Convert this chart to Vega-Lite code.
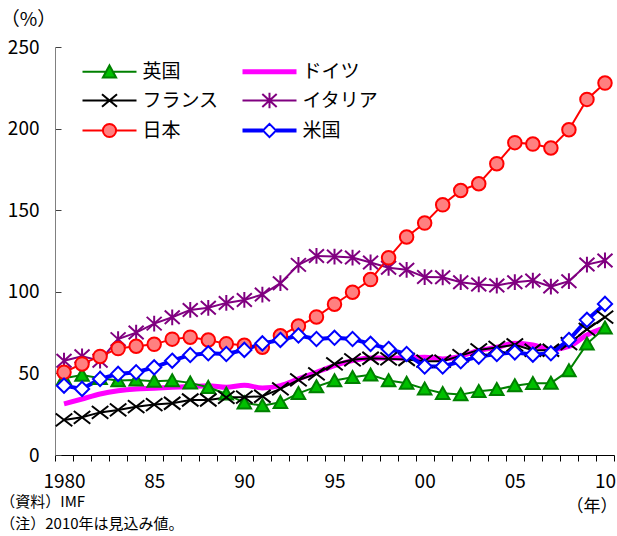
{
  "$schema": "https://vega.github.io/schema/vega-lite/v6.json",
  "width": 559,
  "height": 408,
  "autosize": {"type": "none"},
  "padding": {"left": 55, "top": 47, "right": 3, "bottom": 81},
  "background": "white",
  "config": {
    "font": "Noto Sans CJK JP",
    "view": {"stroke": null},
    "axis": {"grid": false}
  },
  "title": {
    "text": ["（資料）IMF", "（注）2010年は見込み値。"],
    "orient": "bottom",
    "anchor": "start",
    "frame": "bounds",
    "fontSize": 15,
    "fontWeight": "normal",
    "color": "black",
    "lineHeight": 22,
    "offset": -19
  },
  "data": {"values": [
    {"country":"英国","year":1980,"value":47},{"country":"英国","year":1981,"value":49},{"country":"英国","year":1982,"value":47},{"country":"英国","year":1983,"value":45.6},{"country":"英国","year":1984,"value":46},{"country":"英国","year":1985,"value":45.2},{"country":"英国","year":1986,"value":45.6},{"country":"英国","year":1987,"value":44.2},{"country":"英国","year":1988,"value":41.5},{"country":"英国","year":1989,"value":37.4},{"country":"英国","year":1990,"value":32},{"country":"英国","year":1991,"value":30.2},{"country":"英国","year":1992,"value":32.3},{"country":"英国","year":1993,"value":37.8},{"country":"英国","year":1994,"value":41.9},{"country":"英国","year":1995,"value":45.6},{"country":"英国","year":1996,"value":47.6},{"country":"英国","year":1997,"value":49.1},{"country":"英国","year":1998,"value":45.6},{"country":"英国","year":1999,"value":44},{"country":"英国","year":2000,"value":40.5},{"country":"英国","year":2001,"value":37.8},{"country":"英国","year":2002,"value":37},{"country":"英国","year":2003,"value":39},{"country":"英国","year":2004,"value":40.2},{"country":"英国","year":2005,"value":42.5},{"country":"英国","year":2006,"value":43.9},{"country":"英国","year":2007,"value":44},{"country":"英国","year":2008,"value":51.7},{"country":"英国","year":2009,"value":68.1},{"country":"英国","year":2010,"value":77.9},
    {"country":"ドイツ","year":1980,"value":31.3},{"country":"ドイツ","year":1981,"value":34.3},{"country":"ドイツ","year":1982,"value":37.4},{"country":"ドイツ","year":1983,"value":39.4},{"country":"ドイツ","year":1984,"value":40.5},{"country":"ドイツ","year":1985,"value":40.9},{"country":"ドイツ","year":1986,"value":41.5},{"country":"ドイツ","year":1987,"value":41.9},{"country":"ドイツ","year":1988,"value":42.5},{"country":"ドイツ","year":1989,"value":41.5},{"country":"ドイツ","year":1990,"value":42.7},{"country":"ドイツ","year":1991,"value":41.1},{"country":"ドイツ","year":1992,"value":42.5},{"country":"ドイツ","year":1993,"value":46.6},{"country":"ドイツ","year":1994,"value":50.7},{"country":"ドイツ","year":1995,"value":54.8},{"country":"ドイツ","year":1996,"value":57.8},{"country":"ドイツ","year":1997,"value":59.5},{"country":"ドイツ","year":1998,"value":59.5},{"country":"ドイツ","year":1999,"value":59.5},{"country":"ドイツ","year":2000,"value":59.9},{"country":"ドイツ","year":2001,"value":58.9},{"country":"ドイツ","year":2002,"value":60.6},{"country":"ドイツ","year":2003,"value":64},{"country":"ドイツ","year":2004,"value":66},{"country":"ドイツ","year":2005,"value":68.5},{"country":"ドイツ","year":2006,"value":67.5},{"country":"ドイツ","year":2007,"value":64.5},{"country":"ドイツ","year":2008,"value":66.5},{"country":"ドイツ","year":2009,"value":73.5},{"country":"ドイツ","year":2010,"value":78},
    {"country":"フランス","year":1980,"value":21.5},{"country":"フランス","year":1981,"value":23.1},{"country":"フランス","year":1982,"value":26.1},{"country":"フランス","year":1983,"value":27.6},{"country":"フランス","year":1984,"value":29.6},{"country":"フランス","year":1985,"value":30.9},{"country":"フランス","year":1986,"value":31.7},{"country":"フランス","year":1987,"value":33.7},{"country":"フランス","year":1988,"value":33.7},{"country":"フランス","year":1989,"value":35.3},{"country":"フランス","year":1990,"value":35.5},{"country":"フランス","year":1991,"value":36},{"country":"フランス","year":1992,"value":40.5},{"country":"フランス","year":1993,"value":46},{"country":"フランス","year":1994,"value":49.7},{"country":"フランス","year":1995,"value":55.8},{"country":"フランス","year":1996,"value":58.3},{"country":"フランス","year":1997,"value":59.3},{"country":"フランス","year":1998,"value":58.9},{"country":"フランス","year":1999,"value":58.5},{"country":"フランス","year":2000,"value":57.5},{"country":"フランス","year":2001,"value":57.5},{"country":"フランス","year":2002,"value":60.9},{"country":"フランス","year":2003,"value":64.4},{"country":"フランス","year":2004,"value":65.9},{"country":"フランス","year":2005,"value":67.5},{"country":"フランス","year":2006,"value":64.2},{"country":"フランス","year":2007,"value":64.2},{"country":"フランス","year":2008,"value":68.2},{"country":"フランス","year":2009,"value":77},{"country":"フランス","year":2010,"value":84.5},
    {"country":"イタリア","year":1980,"value":57.8},{"country":"イタリア","year":1981,"value":60.5},{"country":"イタリア","year":1982,"value":57.8},{"country":"イタリア","year":1983,"value":71},{"country":"イタリア","year":1984,"value":75},{"country":"イタリア","year":1985,"value":80.5},{"country":"イタリア","year":1986,"value":84.4},{"country":"イタリア","year":1987,"value":88.9},{"country":"イタリア","year":1988,"value":90.2},{"country":"イタリア","year":1989,"value":93.2},{"country":"イタリア","year":1990,"value":95},{"country":"イタリア","year":1991,"value":98.3},{"country":"イタリア","year":1992,"value":105.3},{"country":"イタリア","year":1993,"value":116.5},{"country":"イタリア","year":1994,"value":122},{"country":"イタリア","year":1995,"value":121.6},{"country":"イタリア","year":1996,"value":121},{"country":"イタリア","year":1997,"value":118},{"country":"イタリア","year":1998,"value":114.7},{"country":"イタリア","year":1999,"value":113.5},{"country":"イタリア","year":2000,"value":109},{"country":"イタリア","year":2001,"value":108.9},{"country":"イタリア","year":2002,"value":105.9},{"country":"イタリア","year":2003,"value":104.5},{"country":"イタリア","year":2004,"value":103.8},{"country":"イタリア","year":2005,"value":105.9},{"country":"イタリア","year":2006,"value":106.9},{"country":"イタリア","year":2007,"value":103.2},{"country":"イタリア","year":2008,"value":106.5},{"country":"イタリア","year":2009,"value":116.7},{"country":"イタリア","year":2010,"value":119.2},
    {"country":"日本","year":1980,"value":50.7},{"country":"日本","year":1981,"value":55.8},{"country":"日本","year":1982,"value":60.4},{"country":"日本","year":1983,"value":65.2},{"country":"日本","year":1984,"value":66.6},{"country":"日本","year":1985,"value":67.8},{"country":"日本","year":1986,"value":71},{"country":"日本","year":1987,"value":72.2},{"country":"日本","year":1988,"value":70.5},{"country":"日本","year":1989,"value":68.1},{"country":"日本","year":1990,"value":67.2},{"country":"日本","year":1991,"value":66},{"country":"日本","year":1992,"value":73.1},{"country":"日本","year":1993,"value":79},{"country":"日本","year":1994,"value":84.6},{"country":"日本","year":1995,"value":92.4},{"country":"日本","year":1996,"value":99.7},{"country":"日本","year":1997,"value":107.5},{"country":"日本","year":1998,"value":120.8},{"country":"日本","year":1999,"value":133.6},{"country":"日本","year":2000,"value":142.1},{"country":"日本","year":2001,"value":153.3},{"country":"日本","year":2002,"value":162.1},{"country":"日本","year":2003,"value":166.2},{"country":"日本","year":2004,"value":178.5},{"country":"日本","year":2005,"value":191.4},{"country":"日本","year":2006,"value":190.5},{"country":"日本","year":2007,"value":188.1},{"country":"日本","year":2008,"value":199.3},{"country":"日本","year":2009,"value":217.9},{"country":"日本","year":2010,"value":227.9},
    {"country":"米国","year":1980,"value":42.5},{"country":"米国","year":1981,"value":40.5},{"country":"米国","year":1982,"value":46.6},{"country":"米国","year":1983,"value":49.7},{"country":"米国","year":1984,"value":50.7},{"country":"米国","year":1985,"value":53.7},{"country":"米国","year":1986,"value":57.8},{"country":"米国","year":1987,"value":61.3},{"country":"米国","year":1988,"value":62.3},{"country":"米国","year":1989,"value":61.9},{"country":"米国","year":1990,"value":64.4},{"country":"米国","year":1991,"value":68.4},{"country":"米国","year":1992,"value":70.5},{"country":"米国","year":1993,"value":73.2},{"country":"米国","year":1994,"value":71.1},{"country":"米国","year":1995,"value":71.8},{"country":"米国","year":1996,"value":71.1},{"country":"米国","year":1997,"value":68.1},{"country":"米国","year":1998,"value":65},{"country":"米国","year":1999,"value":61.9},{"country":"米国","year":2000,"value":54.2},{"country":"米国","year":2001,"value":54.2},{"country":"米国","year":2002,"value":57.4},{"country":"米国","year":2003,"value":60.3},{"country":"米国","year":2004,"value":61.9},{"country":"米国","year":2005,"value":62.9},{"country":"米国","year":2006,"value":61.5},{"country":"米国","year":2007,"value":62.3},{"country":"米国","year":2008,"value":70.5},{"country":"米国","year":2009,"value":82.8},{"country":"米国","year":2010,"value":92.6}
  ]},
  "encoding": {
    "x": {
      "field": "year",
      "type": "quantitative",
      "scale": {"domain": [1979.5, 2010.5], "nice": false, "zero": false},
      "axis": {
        "title": "（年）",
        "titleX": 562,
        "titleY": 51,
        "titleAlign": "right",
        "titleBaseline": "middle",
        "titleFontSize": 17,
        "titleFontWeight": "normal",
        "titleColor": "black",
        "values": [1979.5,1980,1980.5,1981.5,1982.5,1983.5,1984.5,1985,1985.5,1986.5,1987.5,1988.5,1989.5,1990,1990.5,1991.5,1992.5,1993.5,1994.5,1995,1995.5,1996.5,1997.5,1998.5,1999.5,2000,2000.5,2001.5,2002.5,2003.5,2004.5,2005,2005.5,2006.5,2007.5,2008.5,2009.5,2010,2010.5],
        "labelExpr": "datum.value == 1980 ? '1980' : datum.value == 1985 ? '85' : datum.value == 1990 ? '90' : datum.value == 1995 ? '95' : datum.value == 2000 ? '00' : datum.value == 2005 ? '05' : datum.value == 2010 ? '10' : ''",
        "tickOpacity": {"condition": {"test": "datum.value % 1 != 0", "value": 1}, "value": 0},
        "tickSize": 6,
        "tickColor": "black",
        "domainColor": "black",
        "labelFontSize": 19,
        "labelColor": "black",
        "labelAlign": "center",
        "labelPadding": 11,
        "labelOverlap": false,
        "labelFlush": false,
        "labelBound": false
      }
    },
    "y": {
      "field": "value",
      "type": "quantitative",
      "scale": {"domain": [0, 250], "nice": false},
      "axis": {
        "values": [0, 50, 100, 150, 200, 250],
        "title": "（%）",
        "titleAngle": 0,
        "titleX": -27,
        "titleY": -28,
        "titleAlign": "center",
        "titleBaseline": "middle",
        "titleFontSize": 19,
        "titleFontWeight": "normal",
        "titleColor": "black",
        "tickSize": -6,
        "tickColor": "#404040",
        "domainColor": "#808080",
        "labelPadding": 22,
        "labelFontSize": 19,
        "labelColor": "black"
      }
    },
    "color": {
      "field": "country",
      "type": "nominal",
      "scale": {
        "domain": ["英国", "ドイツ", "フランス", "イタリア", "日本", "米国"],
        "range": ["#008000", "#ff00ff", "#000000", "#800080", "#ff0000", "#0000ff"]
      },
      "legend": {
        "title": null,
        "orient": "none",
        "direction": "horizontal",
        "legendX": 45,
        "legendY": 15,
        "columns": 2,
        "columnPadding": 13,
        "rowPadding": 6,
        "symbolSize": 144,
        "symbolStrokeWidth": 2,
        "labelFontSize": 19,
        "labelColor": "black",
        "labelOffset": 23.5,
        "encoding": {
          "symbols": {
            "shape": {"value": {"expr": "datum.value === '英国' ? 'M-4.5,0H-0.6M0.6,0H4.5M0,-1.05L1.1,0.95L-1.1,0.95Z' : datum.value === 'ドイツ' ? 'M-4.5,0H4.5' : datum.value === 'フランス' ? 'M-4.5,0H4.5M-1.25,-1.05L1.25,1.05M-1.25,1.05L1.25,-1.05' : datum.value === 'イタリア' ? 'M-4.5,0H4.5M-1.2,-1.1L1.2,1.1M-1.2,1.1L1.2,-1.1M0,-1.3V1.3' : datum.value === '日本' ? 'M-4.5,0H-1.1M1.1,0H4.5M1.1,0A1.1,1.1 0 1,1 -1.1,0A1.1,1.1 0 1,1 1.1,0Z' : 'M-4.5,-0.17H-1.1M-4.5,0.17H-1.1M1.1,-0.17H4.5M1.1,0.17H4.5M0,-1.1L1.1,0L0,1.1L-1.1,0Z'"}},
            "fill": {"value": {"expr": "datum.value === '英国' ? '#00c000' : datum.value === '日本' ? '#ff8080' : datum.value === '米国' ? '#ffffff' : 'transparent'"}},
            "stroke": {"value": {"expr": "datum.value === '英国' ? '#008000' : datum.value === 'ドイツ' ? '#ff00ff' : datum.value === 'フランス' ? '#000000' : datum.value === 'イタリア' ? '#800080' : datum.value === '日本' ? '#ff0000' : '#0000ff'"}},
            "strokeWidth": {"value": {"expr": "datum.value === 'ドイツ' ? 5 : 2"}},
            "opacity": {"value": 1}
          }
        }
      }
    }
  },
  "layer": [
    {
      "transform": [{"filter": "datum.country === 'ドイツ'"}],
      "mark": {"type": "line", "interpolate": "monotone", "strokeWidth": 5}
    },
    {
      "transform": [{"filter": "datum.country !== 'ドイツ' && datum.country !== '米国'"}],
      "mark": {"type": "line", "strokeWidth": 2}
    },
    {
      "transform": [{"filter": "datum.country === '米国'"}],
      "mark": {"type": "line", "strokeWidth": 4}
    },
    {
      "transform": [{"filter": "datum.country !== 'ドイツ'"}],
      "mark": {"type": "point", "filled": false, "size": 225, "strokeWidth": 2, "opacity": 1},
      "encoding": {
        "fill": {
          "field": "country",
          "type": "nominal",
          "scale": {
            "domain": ["英国", "フランス", "イタリア", "日本", "米国"],
            "range": ["#00c000", "transparent", "transparent", "#ff8080", "#ffffff"]
          },
          "legend": null
        },
        "shape": {
          "field": "country",
          "type": "nominal",
          "scale": {
            "domain": ["英国", "フランス", "イタリア", "日本", "米国"],
            "range": [
              "M0,-0.85L0.9,0.75L-0.9,0.75Z",
              "M-1.1,-0.85L1.1,0.85M-1.1,0.85L1.1,-0.85",
              "M-1,-0.9L1,0.9M-1,0.9L1,-0.9M0,-1.05V1.05",
              "M0.9,0A0.9,0.9 0 1,1 -0.9,0A0.9,0.9 0 1,1 0.9,0Z",
              "M0,-0.95L0.95,0L0,0.95L-0.95,0Z"
            ]
          },
          "legend": null
        }
      }
    }
  ]
}
